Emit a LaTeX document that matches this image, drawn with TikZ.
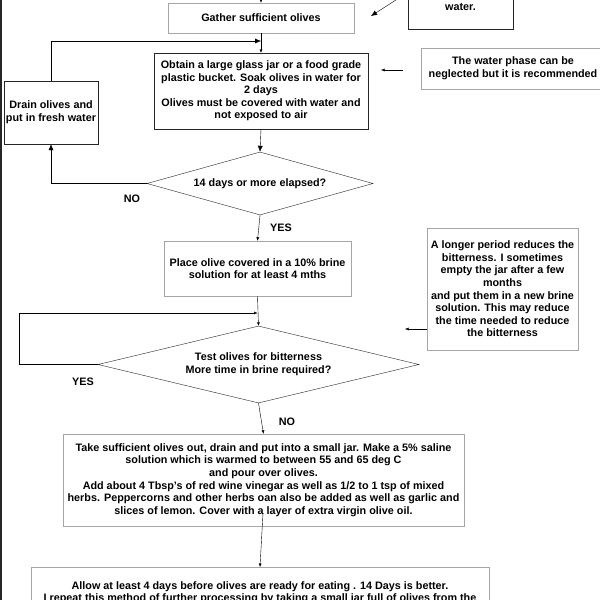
\documentclass[tikz,border=0pt]{standalone}
\usepackage{fontspec}
\setmainfont{Liberation Sans}
\usetikzlibrary{positioning,arrows.meta,shapes.geometric}
\tikzstyle{arrow} = [thin,-{Latex[length=6pt,width=5pt]}]
\tikzstyle{smallarrow} = [thin,-{Latex[length=3.5pt,width=3pt]}]

\begin{document}
\begin{tikzpicture}[x=1pt,y=-1pt,font=\fontsize{10.8}{12.6}\selectfont\bfseries]
\tikzstyle{greybox} = [draw=black!35, thin, align=center, inner sep=0pt]
\tikzstyle{darkbox} = [draw=black!85, thin, align=center, inner sep=0pt]
\tikzstyle{decision} = [diamond, draw=black!85, thin, align=center, inner sep=0pt]
\tikzstyle{answer} = [inner sep=0pt]
\useasboundingbox (0,0) rectangle (600,600);
\clip (0,0) rectangle (600,600);
\fill[white] (0,0) rectangle (600,600);
\fill[black!85] (0,0) rectangle (2,600);

% steps
\node[greybox, minimum width=186pt, minimum height=30pt] (gather) at (261,18) {Gather sufficient olives};
\node[darkbox, minimum width=105pt, minimum height=44pt] (water) at (460.5,7) {water.};
\node[darkbox, minimum width=214pt, minimum height=76pt] (obtain) at (261,91)
  {Obtain a large glass jar or a food grade\\plastic bucket. Soak olives in water for\\2 days\\Olives must be covered with water and\\not exposed to air};
\node[greybox, minimum width=184pt, minimum height=41pt] (phase) at (513,68.5)
  {The water phase can be\\neglected but it is recommended};
\node[darkbox, minimum width=94pt, minimum height=63pt] (drain) at (51,112.5) {Drain olives and\\put in fresh water};
\node[decision, aspect=3.6, minimum width=226pt, minimum height=63pt] (elapsed) at (260,183.5) {14 days or more elapsed?};
\node[greybox, minimum width=187pt, minimum height=55pt] (brine) at (257.5,268.5)
  {Place olive covered in a 10\% brine\\solution for at least 4 mths};
\node[greybox, minimum width=151pt, minimum height=122pt] (period) at (502.5,289)
  {A longer period reduces the\\bitterness. I sometimes\\empty the jar after a few\\months\\and put them in a new brine\\solution. This may reduce\\the time needed to reduce\\the bitterness};
\node[decision, aspect=4.2, minimum width=321pt, minimum height=77pt] (test) at (258.5,364.5)
  {Test olives for bitterness\\More time in brine required?};
\node[greybox, minimum width=401pt, minimum height=92pt] (saline) at (263.5,480)
  {Take sufficient olives out, drain and put into a small jar. Make a 5\% saline\\solution which is warmed to between 55 and 65 deg C\\and pour over olives.\\Add about 4 Tbsp's of red wine vinegar as well as 1/2 to 1 tsp of mixed\\herbs. Peppercorns and other herbs oan also be added as well as garlic and\\slices of lemon. Cover with a layer of extra virgin olive oil.};
\node[greybox, anchor=north, minimum width=458pt, inner ysep=14pt] (allow) at (260,567)
  {Allow at least 4 days before olives are ready for eating . 14 Days is better.\\I repeat this method of further processing by taking a small jar full of olives from the};

% free ends
\coordinate (top) at (261,-6);
\coordinate (watera) at (399,-2);
\coordinate (waterb) at (371,16);
\coordinate (joina) at (261,41);
\coordinate (phasea) at (403,70);
\coordinate (phaseb) at (381,70);
\coordinate (joinb) at (257.5,313);
\coordinate (perioda) at (427,329);
\coordinate (periodb) at (405,329);
\coordinate (salineout) at (263,513);

% connectors
\draw[smallarrow] (top) -- (gather.north);
\draw[arrow] (watera) -- (waterb);
\draw[smallarrow] (gather.south) -- (obtain.north);
\draw[arrow] (drain.north) |- (joina);
\draw[smallarrow] (phasea) -- (phaseb);
\draw[arrow] (obtain.south) -- (elapsed.north);
\draw[arrow] (elapsed.west) -| (drain.south);
\draw[smallarrow] (elapsed.south) -- (brine.north);
\draw[smallarrow] (brine.south) -- (test.north);
\draw[smallarrow] (test.west) -- (19,364.5) |- (joinb);
\draw[smallarrow] (perioda) -- (periodb);
\draw[smallarrow] (test.south) -- (saline.north);
\draw[smallarrow] (salineout) -- (allow.north);

\node[answer] (no1) at (132,199) {NO};
\node[answer] (yes1) at (281,228) {YES};
\node[answer] (yes2) at (83,382) {YES};
\node[answer] (no2) at (287,422) {NO};
\end{tikzpicture}
\end{document}
